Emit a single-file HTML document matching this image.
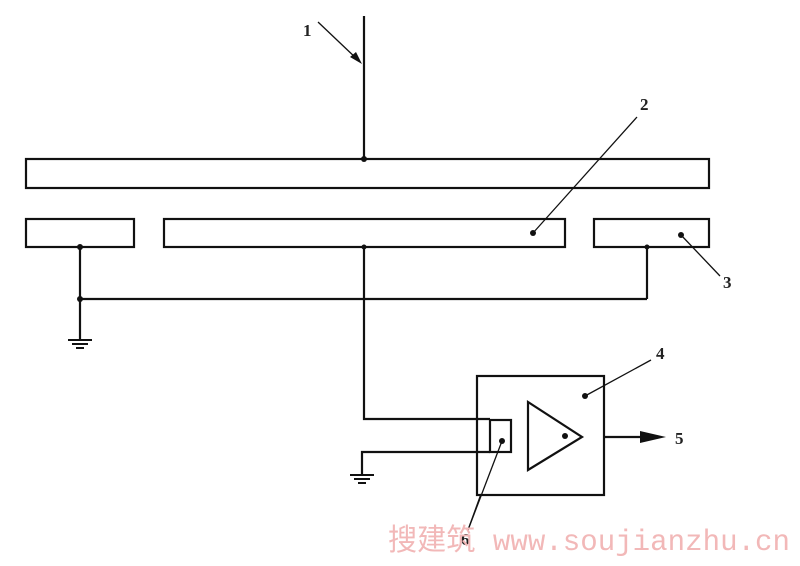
<!DOCTYPE html>
<html><head><meta charset="utf-8"><style>body{margin:0;background:#fff}svg{display:block}</style></head><body>
<svg width="800" height="566" viewBox="0 0 800 566" xmlns="http://www.w3.org/2000/svg">
<g fill="none" stroke="#111" stroke-width="2.2">
<rect x="26" y="159" width="683" height="29"/>
<rect x="26" y="219" width="108" height="28"/>
<rect x="164" y="219" width="401" height="28"/>
<rect x="594" y="219" width="115" height="28"/>
<line x1="364" y1="16" x2="364" y2="159"/>
<line x1="80" y1="247" x2="80" y2="340"/>
<line x1="80" y1="299" x2="647" y2="299"/>
<line x1="647" y1="247" x2="647" y2="299"/>
<polyline points="364,247 364,419 490,419"/>
<polyline points="362,475 362,452 490,452"/>
<rect x="477" y="376" width="127" height="119"/>
<rect x="490" y="420" width="21" height="32"/>
<polygon points="528,402 528,470 582,437"/>
<line x1="604" y1="437" x2="640" y2="437"/>
</g>
<g stroke="#111" stroke-width="2">
<line x1="68" y1="340" x2="92" y2="340"/><line x1="72" y1="344" x2="88" y2="344"/><line x1="76" y1="348" x2="84" y2="348"/>
<line x1="350" y1="475" x2="374" y2="475"/><line x1="354" y1="479" x2="370" y2="479"/><line x1="358" y1="483" x2="366" y2="483"/>
</g>
<g stroke="#111" stroke-width="1.3">
<line x1="318" y1="22" x2="358" y2="60"/>
<line x1="637" y1="117" x2="533" y2="233"/>
<line x1="681" y1="235" x2="720" y2="276"/>
<line x1="651" y1="360" x2="585" y2="396"/>
<line x1="468" y1="530" x2="502" y2="441"/>
<line x1="468" y1="530" x2="481" y2="494"/>
</g>
<polygon points="362,64 350,57 356,52" fill="#111"/>
<polygon points="640,431 666,437 640,443" fill="#111"/>
<g fill="#111">
<circle cx="364" cy="159" r="3"/><circle cx="80" cy="247" r="3"/><circle cx="80" cy="299" r="3"/>
<circle cx="364" cy="247" r="2.5"/><circle cx="647" cy="247" r="2.5"/>
<circle cx="533" cy="233" r="3"/><circle cx="681" cy="235" r="3"/>
<circle cx="585" cy="396" r="3"/><circle cx="565" cy="436" r="3"/><circle cx="502" cy="441" r="3"/>
</g>
<g font-family="Liberation Serif, serif" font-size="17" font-weight="bold" fill="#222">
<text x="303" y="36">1</text>
<text x="640" y="110">2</text>
<text x="723" y="288">3</text>
<text x="656" y="359">4</text>
<text x="675" y="444">5</text>
<text x="461" y="545">6</text>
</g>
<text x="388" y="550" textLength="402" lengthAdjust="spacingAndGlyphs" font-family="Liberation Mono, 'Noto Sans CJK SC', monospace" font-size="30" fill="#f2b8b8">搜建筑 www.soujianzhu.cn</text>
</svg>
</body></html>
